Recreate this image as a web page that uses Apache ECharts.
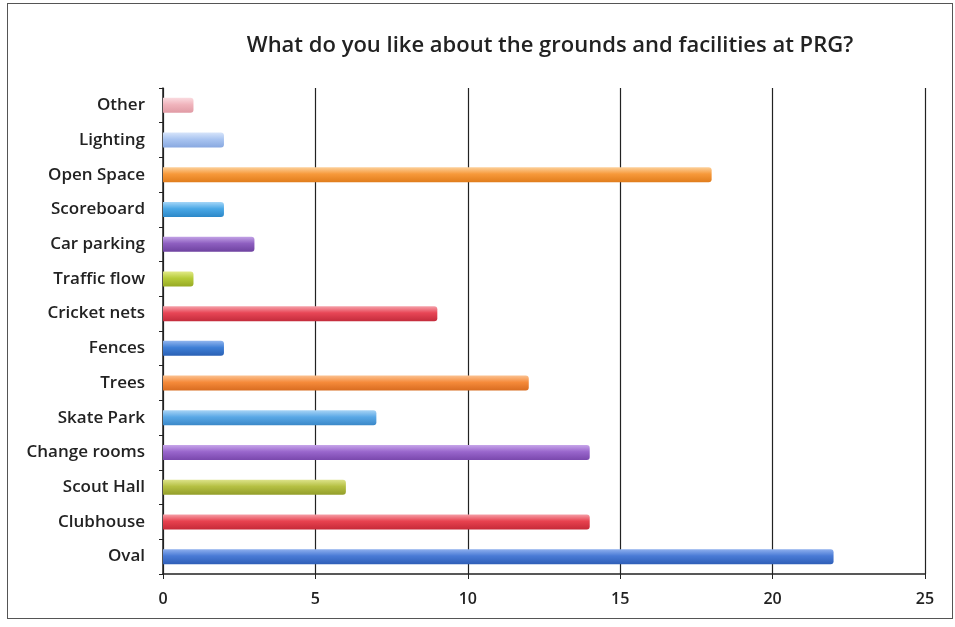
<!DOCTYPE html>
<html>
<head>
<meta charset="utf-8">
<script src="https://cdn.jsdelivr.net/npm/echarts@6/dist/echarts.min.js"></script>
<style>
  html, body { margin: 0; padding: 0; background: #fff; }
  #frame { position: absolute; left: 7px; top: 3px; width: 946px; height: 616px; border: 1px solid #555; box-sizing: border-box; }
  #chart { width: 955px; height: 627px; }
</style>
</head>
<body>
<div id="frame"></div>
<div id="chart"></div>
<script>
// Survey answers, listed bottom to top
const categories = ['Oval', 'Clubhouse', 'Scout Hall', 'Change rooms', 'Skate Park', 'Trees', 'Fences',
  'Cricket nets', 'Traffic flow', 'Car parking', 'Scoreboard', 'Open Space', 'Lighting', 'Other'];
const responses = [22, 14, 6, 14, 7, 12, 2, 9, 1, 3, 2, 18, 2, 1];
const barColors = [
  ['#8fb0ee', '#4a7bd6', '#2f5fb8'],
  ['#f5a0a8', '#e8424f', '#c62a38'],
  ['#dde38a', '#b5c043', '#939e2a'],
  ['#c7a6ea', '#9966cc', '#7a48ad'],
  ['#a8d4f6', '#5aa8e6', '#3a88c8'],
  ['#fbc190', '#f58a3a', '#d86c20'],
  ['#8fb4ee', '#3f7fd6', '#2a60b4'],
  ['#f5a3ab', '#e84656', '#c42c3c'],
  ['#e2ea88', '#b7cc3a', '#97aa24'],
  ['#c2a2e6', '#8e5fc0', '#6e42a0'],
  ['#a4d6f8', '#4aa8e6', '#2c88c8'],
  ['#fcd09a', '#f7993a', '#e07c1c'],
  ['#d6e4fa', '#a9c4f0', '#88a8e0'],
  ['#fadadf', '#f0b4bc', '#e09aa4']
];
const xTicks = { min: 0, max: 25, interval: 5 };

const chart = echarts.init(document.getElementById('chart'));
chart.setOption({
  animation: false,
  title: {
    text: 'What do you like about the grounds and facilities at PRG?',
    left: 545, top: 30, textAlign: 'center',
    textStyle: { fontFamily: 'Open Sans', fontSize: 22, fontWeight: 600, color: '#222' }
  },
  grid: { left: 163, right: 30, top: 88, bottom: 53 },
  xAxis: {
    type: 'value', min: xTicks.min, max: xTicks.max, interval: xTicks.interval,
    axisLine: { show: true, lineStyle: { color: '#222', width: 1.5 } },
    axisTick: { show: true, length: 5, lineStyle: { color: '#222' } },
    axisLabel: { margin: 17, fontFamily: 'Open Sans', fontSize: 16, fontWeight: 600, color: '#222' },
    splitLine: { show: true, lineStyle: { color: '#222', width: 1.2 } }
  },
  yAxis: {
    type: 'category', data: categories,
    axisLine: { show: true, lineStyle: { color: '#222', width: 1.5 } },
    axisTick: { show: true, length: 4, lineStyle: { color: '#222' } },
    axisLabel: { margin: 18, fontFamily: 'Open Sans', fontSize: 17, fontWeight: 600, color: '#222' }
  },
  series: [{
    type: 'bar',
    barWidth: 15,
    data: responses.map((v, i) => ({
      value: v,
      itemStyle: {
        color: new echarts.graphic.LinearGradient(0, 0, 0, 1, [
          { offset: 0, color: barColors[i][0] },
          { offset: 0.45, color: barColors[i][1] },
          { offset: 1, color: barColors[i][2] }
        ]),
        borderRadius: [0, 3, 3, 0]
      }
    }))
  }]
});
</script>
</body>
</html>
